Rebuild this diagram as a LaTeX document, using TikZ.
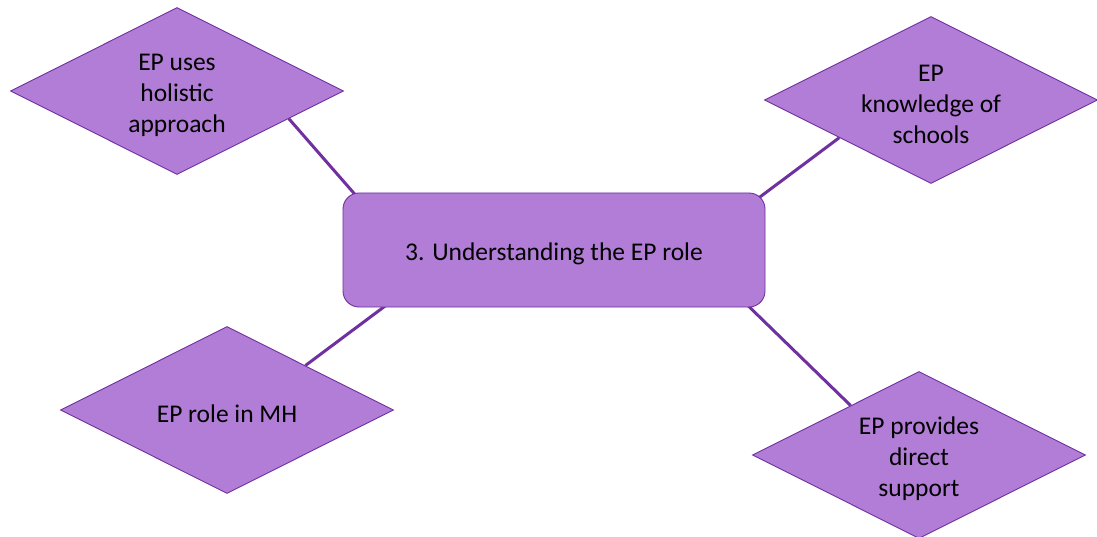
\documentclass[tikz,border=0pt]{standalone}
\usepackage{fontspec}
\setmainfont{Carlito}
\usetikzlibrary{shapes.geometric,backgrounds,calc}
\definecolor{mapfill}{RGB}{177,125,214}
\definecolor{mapline}{RGB}{112,48,160}
\tikzset{
  theme/.style={draw=mapline, line width=0.9pt, fill=mapfill},
  hub/.style={theme, rectangle, rounded corners=16pt,
    minimum width=422pt, minimum height=114pt, inner sep=0pt},
  leaf/.style={theme, diamond, shape aspect=2, inner sep=0pt,
    minimum width=333pt, minimum height=167pt},
  caption/.style={text=black, align=center, inner sep=0pt,
    font=\fontsize{25.5}{31}\selectfont},
  link/.style={draw=mapline, line width=3pt}
}
\begin{document}
\begin{tikzpicture}[x=1pt, y=-1pt]
  \useasboundingbox (0,0) rectangle (1097,537);

  % central theme and its four sub-themes
  \node[hub] (c) at (554,250) {};
  \node[leaf] (tl) at (177,91) {};
  \node[leaf] (tr) at (931,100) {};
  \node[leaf] (bl) at (227,410) {};
  \node[leaf] (br) at (919,455) {};

  % their labels, set a little below each shape's centre
  \node[caption] (c-text)  at ($(c)+(0,4)$)  {3. Understanding the EP role};
  \node[caption] (tl-text) at ($(tl)+(0,4)$) {EP uses\\holistic\\approach};
  \node[caption] (tr-text) at ($(tr)+(0,4)$) {EP\\knowledge of\\schools};
  \node[caption] (bl-text) at ($(bl)+(0,4)$) {EP role in MH};
  \node[caption] (br-text) at ($(br)+(0,4)$) {EP provides\\direct\\support};

  % spokes, drawn behind the shapes
  \begin{scope}[on background layer]
    \draw[link] ($(tl.east)!0.33!(tl.south)$) -- ($(c.north west)+(30,22)$);
    \draw[link] ($(tr.west)!0.45!(tr.south)$) -- ($(c.north east)+(-25,19)$);
    \draw[link] ($(bl.north)!0.47!(bl.east)$) -- ($(c.south west)+(50,-7)$);
    \draw[link] ($(br.north)!0.41!(br.west)$) -- ($(c.south east)+(-30,-14)$);
  \end{scope}
\end{tikzpicture}
\end{document}
